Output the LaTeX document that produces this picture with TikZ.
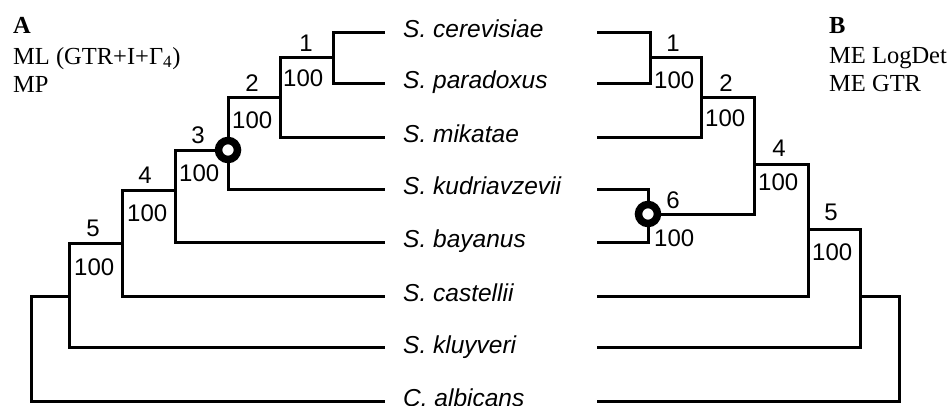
\documentclass[tikz,border=0pt]{standalone}
\usepackage{fontspec}
\setmainfont{Liberation Sans}
\newfontfamily\tmsfont{Liberation Serif}

\tikzstyle{txt} = [inner sep=0pt, font=\fontsize{24bp}{27bp}\selectfont]
\tikzstyle{taxon} = [txt, anchor=base west, font=\fontsize{24.5bp}{27bp}\selectfont\itshape]
\tikzstyle{boot} = [txt, anchor=west]
\tikzstyle{hdr} = [inner sep=0pt, anchor=base west, font=\fontsize{24.5bp}{29bp}\selectfont\tmsfont]
\tikzstyle{branch} = [line width=3bp]
\tikzstyle{mark3} = [circle, draw, line width=7.5bp, fill=white, minimum size=19bp, inner sep=0pt]

\begin{document}
\begin{tikzpicture}[x=1bp, y=-1bp,
font=\footnotesize,
]
\useasboundingbox (0,0) rectangle (950,405);

% Headers
\node[hdr] (hA) at (13,33) {\bfseries A};
\node[hdr] (hML) at (13,64) {ML (GTR+I+Γ\textsubscript{4})};
\node[hdr] (hMP) at (13,92) {MP};
\node[hdr] (hB) at (829,33) {\bfseries B};
\node[hdr] (hLD) at (829,63) {ME LogDet};
\node[hdr] (hGT) at (829,91) {ME GTR};

% Taxa
\node[taxon] (cer) at (403,37.5) {S. cerevisiae};
\node[taxon] (par) at (403,88.5) {S. paradoxus};
\node[taxon] (mik) at (403,142) {S. mikatae};
\node[taxon] (kud) at (403,194.5) {S. kudriavzevii};
\node[taxon] (bay) at (403,247.5) {S. bayanus};
\node[taxon] (cas) at (403,301) {S. castellii};
\node[taxon] (klu) at (403,353) {S. kluyveri};
\node[taxon] (alb) at (403,406.5) {C. albicans};

%LEFT TREE
\coordinate (lcer) at (385,32);
\coordinate (lpar) at (385,83);
\coordinate (lmik) at (385,137);
\coordinate (lkud) at (385,189);
\coordinate (lbay) at (385,242.5);
\coordinate (lcas) at (385,296);
\coordinate (lklu) at (385,347.5);
\coordinate (lalb) at (385,401);

\coordinate (ln1) at (333,57.5);
\coordinate (ln2) at (280,97);
\coordinate (ln3) at (228,150);
\coordinate (ln4) at (175,190);
\coordinate (ln5) at (122,243);
\coordinate (ln6) at (69,296);
\coordinate (lroot) at (31,348);

\draw[branch] (ln1) |- (lcer);
\draw[branch] (ln1) |- (lpar);
\draw[branch] (ln2) |- (ln1);
\draw[branch] (ln2) |- (lmik);
\draw[branch] (ln3) |- (ln2);
\draw[branch] (ln3) |- (lkud);
\draw[branch] (ln4) |- (ln3);
\draw[branch] (ln4) |- (lbay);
\draw[branch] (ln5) |- (ln4);
\draw[branch] (ln5) |- (lcas);
\draw[branch] (ln6) |- (ln5);
\draw[branch] (ln6) |- (lklu);
\draw[branch] (lroot) |- (ln6);
\draw[branch] (lroot) |- (lalb);
\node[mark3] (lmark) at (ln3) {};

\node[txt] (lk1) at (306,43) {1};
\node[boot] (lb1) at (283,78) {100};
\node[txt] (lk2) at (252,83) {2};
\node[boot] (lb2) at (232,120) {100};
\node[txt] (lk3) at (198,135) {3};
\node[boot] (lb3) at (179,173) {100};
\node[txt] (lk4) at (145,175) {4};
\node[boot] (lb4) at (127,213) {100};
\node[txt] (lk5) at (93,228) {5};
\node[boot] (lb5) at (74,267) {100};

%RIGHT TREE
\coordinate (rcer) at (597,32);
\coordinate (rpar) at (597,83);
\coordinate (rmik) at (597,137);
\coordinate (rkud) at (597,189);
\coordinate (rbay) at (597,242.5);
\coordinate (rcas) at (597,296);
\coordinate (rklu) at (597,347.5);
\coordinate (ralb) at (597,401);

\coordinate (rn1) at (650,57.5);
\coordinate (rn2) at (701,97);
\coordinate (rn6) at (648,214);
\coordinate (rn4) at (754,164);
\coordinate (rn5) at (808,229);
\coordinate (rn7) at (860,296);
\coordinate (rroot) at (899,348);

\draw[branch] (rn1) |- (rcer);
\draw[branch] (rn1) |- (rpar);
\draw[branch] (rn2) |- (rn1);
\draw[branch] (rn2) |- (rmik);
\draw[branch] (rn6) |- (rkud);
\draw[branch] (rn6) |- (rbay);
\draw[branch] (rn4) |- (rn2);
\draw[branch] (rn4) |- (rn6);
\draw[branch] (rn5) |- (rn4);
\draw[branch] (rn5) |- (rcas);
\draw[branch] (rn7) |- (rn5);
\draw[branch] (rn7) |- (rklu);
\draw[branch] (rroot) |- (rn7);
\draw[branch] (rroot) |- (ralb);
\node[mark3] (rmark) at (rn6) {};

\node[txt] (rk1) at (673,43) {1};
\node[boot] (rb1) at (654,80) {100};
\node[txt] (rk2) at (726,83) {2};
\node[boot] (rb2) at (705,118) {100};
\node[txt] (rk4) at (779,148) {4};
\node[boot] (rb4) at (758,182) {100};
\node[txt] (rk6) at (673,200) {6};
\node[boot] (rb6) at (654,238) {100};
\node[txt] (rk5) at (831,212) {5};
\node[boot] (rb5) at (812,252) {100};

\end{tikzpicture}
\end{document}
